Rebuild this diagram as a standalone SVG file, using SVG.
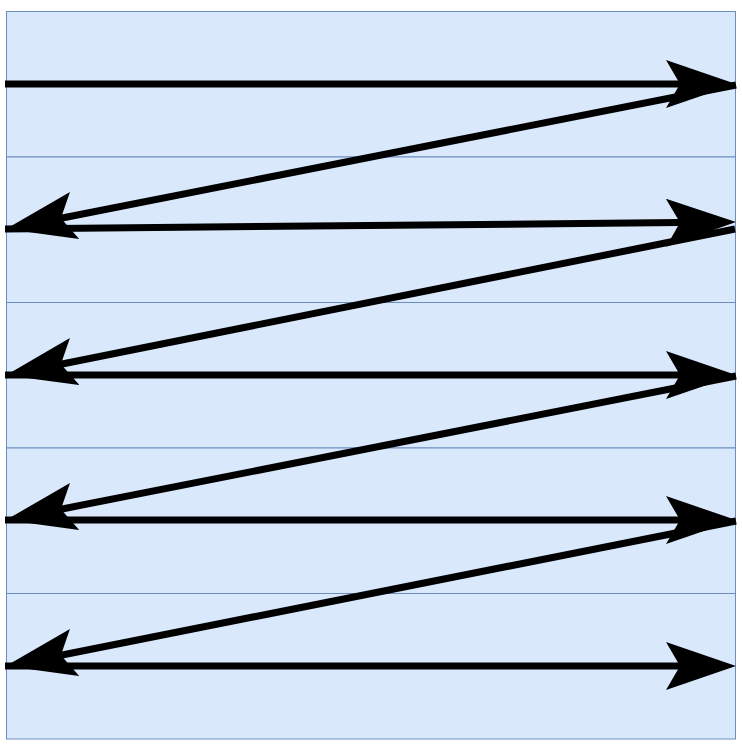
<svg xmlns="http://www.w3.org/2000/svg" width="742" height="746" viewBox="0 0 742 746">
<style>
.row{fill:#dae8fc;stroke:#6c8ebf;stroke-width:1}
.c{fill:none;stroke:#000;stroke-width:7;marker-end:url(#ah)}
</style>
<defs>
<marker id="ah" markerUnits="userSpaceOnUse" orient="auto" markerWidth="72" markerHeight="50" refX="14" refY="24" viewBox="0 0 72 50">
<path d="M0,0 L70,24 L0,48 L14,24 Z" fill="#000"/>
</marker>
</defs>
<g id="row1"><rect class="row" x="6.5" y="11.5" width="729" height="145.5"/></g>
<g id="row2"><rect class="row" x="6.5" y="157" width="729" height="145.5"/></g>
<g id="row3"><rect class="row" x="6.5" y="302.5" width="729" height="145.5"/></g>
<g id="row4"><rect class="row" x="6.5" y="448" width="729" height="145.5"/></g>
<g id="row5"><rect class="row" x="6.5" y="593.5" width="729" height="145.5"/></g>
<g id="connectors">
<path class="c" d="M5,84 L680,84"/>
<path class="c" d="M736,85 L60.9,218.2"/>
<path class="c" d="M5,229 L680,222.5"/>
<path class="c" d="M735,229 L60.9,364.2"/>
<path class="c" d="M5,375 L680,375"/>
<path class="c" d="M736,376 L60.9,509.2"/>
<path class="c" d="M5,520 L680,520"/>
<path class="c" d="M736,521 L60.9,655.2"/>
<path class="c" d="M5,666 L680,666"/>
</g>
</svg>
